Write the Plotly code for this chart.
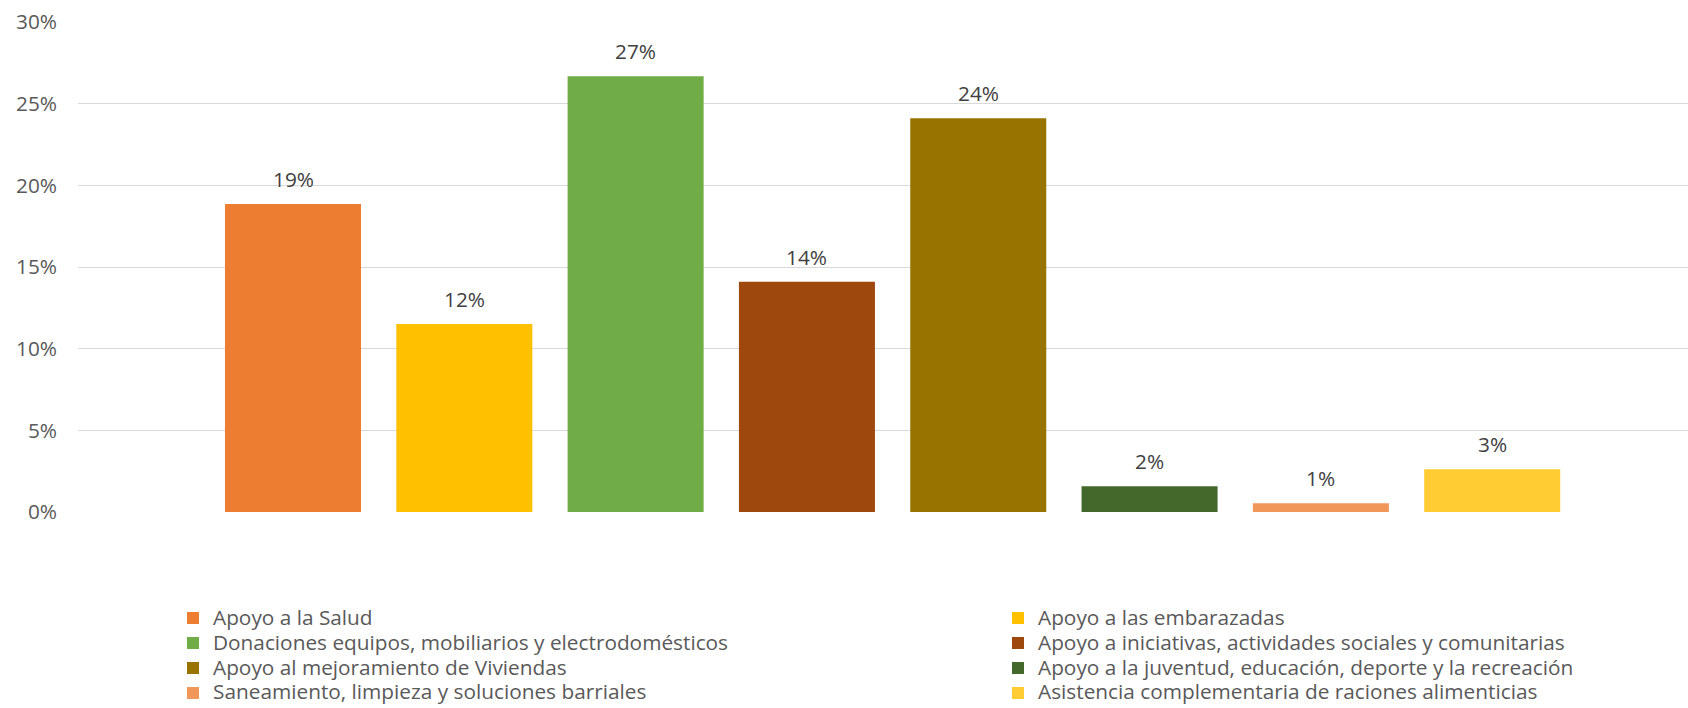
import plotly.graph_objects as go

categories = [
    "Apoyo a la Salud",
    "Apoyo a las embarazadas",
    "Donaciones equipos, mobiliarios y electrodomésticos",
    "Apoyo a iniciativas, actividades sociales y comunitarias",
    "Apoyo al mejoramiento de Viviendas",
    "Apoyo a la juventud, educación, deporte y la recreación",
    "Saneamiento, limpieza y soluciones barriales",
    "Asistencia complementaria de raciones alimenticias",
]
shares = [0.1886, 0.1151, 0.2668, 0.1410, 0.2410, 0.0157, 0.0053, 0.0262]
colors = ["#ED7D31", "#FFC000", "#70AD47", "#9E480E",
          "#997300", "#43682B", "#F1975A", "#FFCD33"]
y_ticks = [0, 0.05, 0.10, 0.15, 0.20, 0.25, 0.30]

FONT = "Open Sans"
FS = 20.8             # size of all visible text
LEGEND_ROW_FS = 16.9  # legend font size that sets the row pitch

fig = go.Figure()
for i, (name, val, col) in enumerate(zip(categories, shares, colors)):
    fig.add_trace(go.Bar(
        x=[name], y=[val],
        name=f'<span style="font-size:{FS}px">{name}</span>',
        marker=dict(color=col, line=dict(width=0)),
        width=0.794, hoverinfo="skip",
        legend="legend" if i % 2 == 0 else "legend2",
    ))
    fig.add_annotation(
        x=name, y=val, xref="x", yref="y",
        text=f"{val:.0%}", showarrow=False,
        yanchor="middle", yshift=25,
        font=dict(family=FONT, size=FS, color="#404040"),
    )

legend_common = dict(
    orientation="v", xref="container", yref="container",
    xanchor="left", yanchor="top",
    y=1 - 600.5 / 708,
    traceorder="normal",
    bgcolor="rgba(0,0,0,0)",
    font=dict(family=FONT, size=LEGEND_ROW_FS, color="#595959"),
    itemclick=False, itemdoubleclick=False,
)

fig.update_layout(
    width=1688, height=708,
    margin=dict(l=78, r=0, t=22, b=196, autoexpand=False),
    paper_bgcolor="white", plot_bgcolor="white",
    barmode="overlay",
    showlegend=True,
    legend=dict(x=173 / 1688, **legend_common),
    legend2=dict(x=998 / 1688, **legend_common),
    font=dict(family=FONT, size=FS, color="#595959"),
    xaxis=dict(
        type="category", showticklabels=False, showgrid=False,
        zeroline=False, showline=False, ticks="",
        range=[-1.255, 8.143],
    ),
    yaxis=dict(
        range=[0, 0.30], tickvals=y_ticks, tickformat=".0%",
        showgrid=True, gridcolor="#D9D9D9", gridwidth=1.3,
        zeroline=False, showline=False, ticks="",
        ticklabelstandoff=20,
        tickfont=dict(family=FONT, size=FS, color="#595959"),
    ),
)

fig.write_html("out.html")
